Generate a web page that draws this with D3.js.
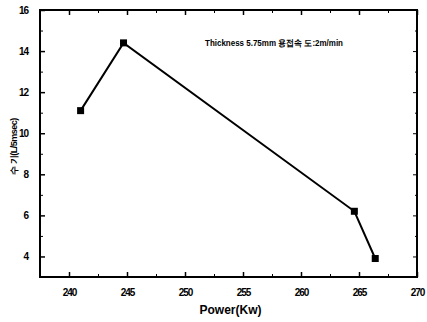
<!DOCTYPE html>
<html><head><meta charset="utf-8">
<script src="https://cdn.jsdelivr.net/npm/d3@7"></script>
<style>
body{margin:0;background:#fff;}
text{font-family:"Liberation Sans",Arial,sans-serif;font-weight:bold;fill:#000;}
</style></head>
<body><svg id="c" width="427" height="322"></svg>
<script>
const power = [241.0, 244.7, 264.6, 266.4];
const values = [11.1, 14.4, 6.2, 3.9];
const xTicks = [240, 245, 250, 255, 260, 265, 270];
const yTicks = [4, 6, 8, 10, 12, 14, 16];
const xLabel = "Power(Kw)";
const yLabel = "수 기(L/5msec)";
const note = "Thickness 5.75mm 용접속 도:2m/min";

const svg = d3.select("#c");
const L = 40, R = 417, T = 10, B = 277;
const x = d3.scaleLinear().domain([237.5, 270]).range([L, R]);
const y = d3.scaleLinear().domain([3, 16]).range([B, T]);

const xMinor = d3.range(237.5, 270.01, 2.5).filter(v => !xTicks.includes(v));
const yMinor = d3.range(3, 16.01, 1).filter(v => !yTicks.includes(v));

// Frame
svg.append("rect").attr("x", L).attr("y", T).attr("width", R - L).attr("height", B - T)
  .attr("fill", "none").attr("stroke", "#000").attr("stroke-width", 2);

// Bottom axis (ticks inward)
const gb = svg.append("g").attr("transform", `translate(0,${B})`)
  .call(d3.axisBottom(x).tickValues(xTicks).tickSize(-5).tickFormat(d3.format("d")).tickPadding(12));
gb.select(".domain").remove();
gb.selectAll("line").attr("stroke-width", 1.5);
gb.selectAll("text").attr("font-size", 10).attr("letter-spacing", -1);
svg.append("g").attr("transform", `translate(0,${B})`)
  .call(d3.axisBottom(x).tickValues(xMinor).tickSize(-3).tickFormat(""))
  .call(g => g.select(".domain").remove());
// Top axis
svg.append("g").attr("transform", `translate(0,${T})`)
  .call(d3.axisTop(x).tickValues(xTicks).tickSize(-5).tickFormat(""))
  .call(g => g.select(".domain").remove()).selectAll("line").attr("stroke-width", 1.5);
svg.append("g").attr("transform", `translate(0,${T})`)
  .call(d3.axisTop(x).tickValues(xMinor).tickSize(-3).tickFormat(""))
  .call(g => g.select(".domain").remove());

// Left axis
const gl = svg.append("g").attr("transform", `translate(${L},0)`)
  .call(d3.axisLeft(y).tickValues(yTicks).tickSize(-5).tickFormat(d3.format("d")).tickPadding(12));
gl.select(".domain").remove();
gl.selectAll("line").attr("stroke-width", 1.5);
gl.selectAll("text").attr("font-size", 10).attr("letter-spacing", -1);
svg.append("g").attr("transform", `translate(${L},0)`)
  .call(d3.axisLeft(y).tickValues(yMinor).tickSize(-3).tickFormat(""))
  .call(g => g.select(".domain").remove());
// Right axis
svg.append("g").attr("transform", `translate(${R},0)`)
  .call(d3.axisRight(y).tickValues(yTicks).tickSize(-4).tickFormat(""))
  .call(g => g.select(".domain").remove());
svg.append("g").attr("transform", `translate(${R},0)`)
  .call(d3.axisRight(y).tickValues(yMinor).tickSize(-2).tickFormat(""))
  .call(g => g.select(".domain").remove());

// Line
const data = power.map((p, i) => ({p, v: values[i]}));
svg.append("path").datum(data)
  .attr("d", d3.line().x(d => x(d.p)).y(d => y(d.v)))
  .attr("fill", "none").attr("stroke", "#000").attr("stroke-width", 2);
svg.selectAll("rect.pt").data(data).enter().append("rect").attr("class", "pt")
  .attr("x", d => x(d.p) - 3.5).attr("y", d => y(d.v) - 3.5)
  .attr("width", 7).attr("height", 7).attr("fill", "#000");

// Labels
svg.append("text").attr("x", (L + R) / 2 + 2).attr("y", 314).attr("text-anchor", "middle")
  .attr("font-size", 12).text(xLabel);
svg.append("text").attr("transform", `translate(17,${(115 + 178) / 2}) rotate(-90)`)
  .attr("text-anchor", "middle").attr("font-size", 9).attr("letter-spacing", -0.5).text(yLabel);
svg.append("text").attr("x", 205).attr("y", 46).attr("font-size", 9)
  .attr("textLength", 138).attr("lengthAdjust", "spacingAndGlyphs").text(note);
</script></body></html>
